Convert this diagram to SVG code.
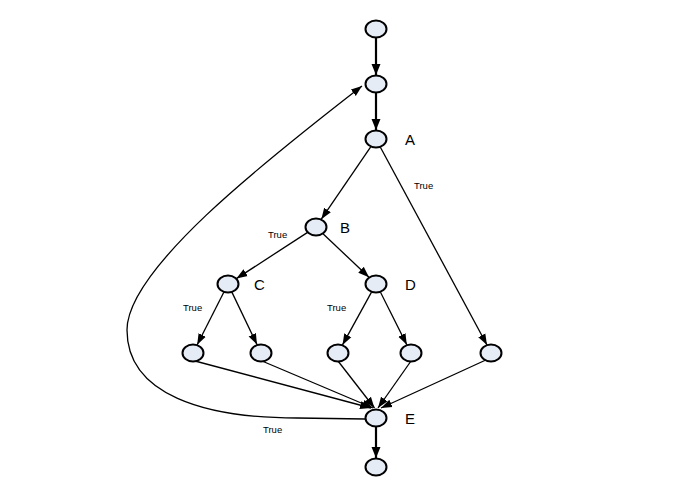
<svg xmlns="http://www.w3.org/2000/svg" width="682" height="488" viewBox="0 0 682 488">
<style>
.n{fill:#e6ecf6;stroke:#000;stroke-width:2}
.e{fill:none;stroke:#000;stroke-width:1.3;marker-end:url(#ah)}
.t{fill:none;stroke:#000;stroke-width:2.2;marker-end:url(#ahb)}
.lb{font-family:"Liberation Sans",Arial,sans-serif;font-size:15px;fill:#000}
.tr{font-family:"Liberation Sans",Arial,sans-serif;font-size:9.5px;fill:#000}
</style>
<defs>
<marker id="ah" markerUnits="userSpaceOnUse" markerWidth="12" markerHeight="10" viewBox="0 0 12 10" refX="11" refY="5" orient="auto"><path d="M0,1 L11,5 L0,9 Z" fill="#000"/></marker>
<marker id="ahb" markerUnits="userSpaceOnUse" markerWidth="12" markerHeight="10" viewBox="0 0 12 10" refX="11" refY="5" orient="auto"><path d="M0,0.5 L11,5 L0,9.5 Z" fill="#000"/></marker>
</defs>
<rect width="682" height="488" fill="#fff"/>
<g id="connectors">
<line class="t" x1="376" y1="37" x2="376" y2="75"/>
<line class="t" x1="376" y1="93" x2="376" y2="130"/>
<line class="t" x1="376" y1="427" x2="376" y2="458"/>
<line class="e" x1="370.7" y1="146.8" x2="321.3" y2="219.2"/>
<line class="e" x1="380.4" y1="147.2" x2="487" y2="345"/>
<line class="e" x1="307.6" y1="232.4" x2="236.4" y2="278.6"/>
<line class="e" x1="323" y1="233.7" x2="369" y2="277.3"/>
<line class="e" x1="223.8" y1="292.3" x2="197.2" y2="344.7"/>
<line class="e" x1="232" y1="292.4" x2="257" y2="344.6"/>
<line class="e" x1="371.5" y1="292.1" x2="342.5" y2="344.9"/>
<line class="e" x1="380.5" y1="292.3" x2="406.8" y2="344.7"/>
<line class="e" x1="195" y1="361" x2="371" y2="408"/>
<line class="e" x1="262" y1="361" x2="373" y2="408"/>
<line class="e" x1="338" y1="361" x2="374.5" y2="408"/>
<line class="e" x1="411" y1="361" x2="378" y2="408"/>
<line class="e" x1="488" y1="359" x2="381" y2="408"/>
<path class="e" d="M365,419 L297,418 C205,418 127,395 127,330 C127,270 260,165 362,86"/>
</g>
<g id="n0"><ellipse class="n" cx="376" cy="29" rx="10.5" ry="8.5"/></g>
<g id="n1"><ellipse class="n" cx="376" cy="84" rx="10.5" ry="8.5"/></g>
<g id="nA"><ellipse class="n" cx="376" cy="139" rx="10.5" ry="8.5"/><text class="lb" x="405" y="145">A</text></g>
<g id="nB"><ellipse class="n" cx="316" cy="227" rx="10.5" ry="8.5"/><text class="lb" x="340" y="233">B</text></g>
<g id="nC"><ellipse class="n" cx="228" cy="284" rx="10.5" ry="8.5"/><text class="lb" x="254" y="290">C</text></g>
<g id="nD"><ellipse class="n" cx="376" cy="284" rx="10.5" ry="8.5"/><text class="lb" x="405" y="290">D</text></g>
<g id="c1"><ellipse class="n" cx="193" cy="353" rx="10.5" ry="8.5"/></g>
<g id="c2"><ellipse class="n" cx="261" cy="353" rx="10.5" ry="8.5"/></g>
<g id="d1"><ellipse class="n" cx="338" cy="353" rx="10.5" ry="8.5"/></g>
<g id="d2"><ellipse class="n" cx="411" cy="353" rx="10.5" ry="8.5"/></g>
<g id="a1"><ellipse class="n" cx="491" cy="353" rx="10.5" ry="8.5"/></g>
<g id="nE"><ellipse class="n" cx="376" cy="418" rx="10.5" ry="8.5"/><text class="lb" x="405" y="424">E</text></g>
<g id="nEnd"><ellipse class="n" cx="376" cy="467" rx="10.5" ry="8.5"/></g>
<g id="labels">
<text class="tr" x="414" y="189">True</text>
<text class="tr" x="268" y="238">True</text>
<text class="tr" x="183" y="311">True</text>
<text class="tr" x="327" y="311">True</text>
<text class="tr" x="263" y="433">True</text>
</g>
</svg>
